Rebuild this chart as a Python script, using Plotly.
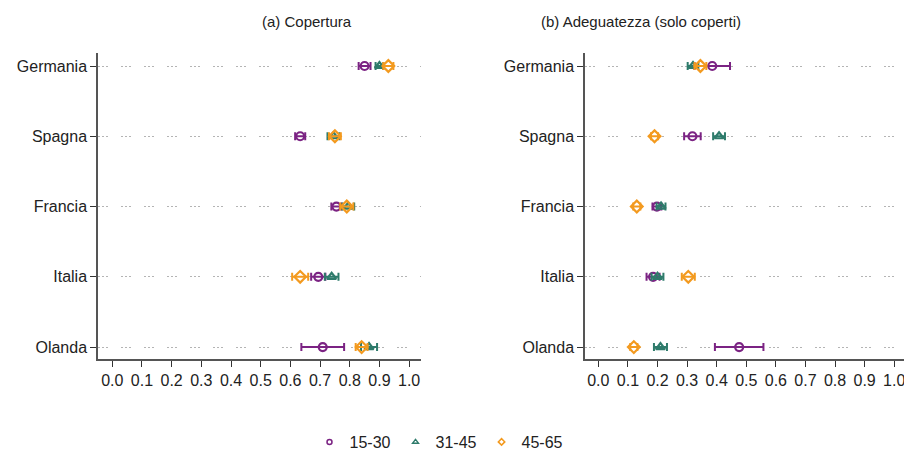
import plotly.graph_objects as go

# Countries, top to bottom
countries = ["Germania", "Spagna", "Francia", "Italia", "Olanda"]
groups = ["15-30", "31-45", "45-65"]

# (a) Copertura: point estimates and half-width of the confidence interval
cop_15_30 = [0.850, 0.633, 0.755, 0.694, 0.709]
cop_15_30_err = [0.020, 0.017, 0.017, 0.024, 0.072]
cop_31_45 = [0.900, 0.745, 0.795, 0.739, 0.865]
cop_31_45_err = [0.013, 0.020, 0.020, 0.023, 0.027]
cop_45_65 = [0.930, 0.750, 0.790, 0.633, 0.840]
cop_45_65_err = [0.017, 0.020, 0.022, 0.027, 0.020]

# (b) Adeguatezza (solo coperti)
ade_15_30 = [0.385, 0.318, 0.198, 0.185, 0.476]
ade_15_30_err = [0.060, 0.028, 0.015, 0.022, 0.082]
ade_31_45 = [0.320, 0.408, 0.212, 0.200, 0.210]
ade_31_45_err = [0.018, 0.020, 0.015, 0.020, 0.022]
ade_45_65 = [0.345, 0.190, 0.130, 0.304, 0.120]
ade_45_65_err = [0.020, 0.012, 0.012, 0.022, 0.012]

x_ticks = [round(i / 10, 1) for i in range(11)]

colors = {"15-30": "#7b2383", "31-45": "#2e7b6b", "45-65": "#f39a1f"}
symbols = {"15-30": "circle-open", "31-45": "triangle-up-open", "45-65": "diamond-open"}
sizes = {"15-30": 8, "31-45": 8, "45-65": 9}

ypos = list(range(len(countries), 0, -1))  # Germania at top

panels = [
    ("x", "y", [(cop_15_30, cop_15_30_err), (cop_31_45, cop_31_45_err), (cop_45_65, cop_45_65_err)]),
    ("x2", "y2", [(ade_15_30, ade_15_30_err), (ade_31_45, ade_31_45_err), (ade_45_65, ade_45_65_err)]),
]

fig = go.Figure()
for xa, ya, series in panels:
    for g, (vals, errs) in zip(groups, series):
        fig.add_trace(go.Scatter(
            x=vals, y=ypos, xaxis=xa, yaxis=ya, mode="markers",
            marker=dict(symbol=symbols[g], size=sizes[g], color=colors[g],
                        line=dict(width=2.2, color=colors[g])),
            error_x=dict(type="data", array=errs, visible=True, color=colors[g],
                         thickness=2, width=4),
            showlegend=False, name=g, hoverinfo="x+name",
        ))

# small legend markers
for g in groups:
    fig.add_trace(go.Scatter(
        x=[None], y=[None], mode="markers", name=g,
        marker=dict(symbol=symbols[g], size=5, color=colors[g],
                    line=dict(width=1.5, color=colors[g])),
    ))

W, H = 904, 452
y_dom = [(H - 359) / H, (H - 53) / H]
font = "Liberation Sans, Arial, sans-serif"

axis_common = dict(
    showline=True, linecolor="#555555", linewidth=1.5,
    ticks="outside", ticklen=6, tickwidth=1.3, tickcolor="#333333",
    tickfont=dict(size=16, color="#222222", family=font),
    zeroline=False, ticklabeloverflow="allow",
)
grid = dict(showgrid=True, gridcolor="#b4b4b4", gridwidth=1,
            griddash="2px,2px,2px,2px,2px,13px")

fig.update_layout(
    width=W, height=H,
    margin=dict(l=0, r=0, t=0, b=0, autoexpand=False),
    paper_bgcolor="white", plot_bgcolor="white",
    font=dict(family=font, color="#222222"),
    xaxis=dict(domain=[98 / W, 421 / W], range=[-0.048, 1.040],
               tickvals=x_ticks, ticktext=[f"{v:.1f}" for v in x_ticks],
               showgrid=False, anchor="y", **axis_common),
    yaxis=dict(domain=y_dom, range=[0.83, 5.185], tickvals=ypos, ticktext=countries,
               anchor="x", **grid, **axis_common),
    xaxis2=dict(domain=[585 / W, 1.0], range=[-0.045, 1.033],
                tickvals=x_ticks, ticktext=[f"{v:.1f}" for v in x_ticks],
                showgrid=False, anchor="y2", **axis_common),
    yaxis2=dict(domain=y_dom, range=[0.83, 5.185], tickvals=ypos, ticktext=countries,
                anchor="x2", **grid, **axis_common),
    legend=dict(orientation="h", x=(452 - 13) / W, xanchor="center", y=(H - 442) / H,
                yanchor="middle",
                font=dict(size=16, family=font, color="#222222"),
                itemwidth=30, tracegroupgap=0),
    annotations=[
        dict(text="(a) Copertura", x=(98 + 421) / 2 / W, y=(H - 22) / H,
             xref="paper", yref="paper", showarrow=False, yanchor="middle",
             font=dict(size=15, family=font, color="#222222")),
        dict(text="(b) Adeguatezza (solo coperti)", x=743 / W, y=(H - 22) / H,
             xref="paper", yref="paper", showarrow=False, yanchor="middle",
             font=dict(size=15, family=font, color="#222222")),
    ],
)

fig.write_html("out.html")
